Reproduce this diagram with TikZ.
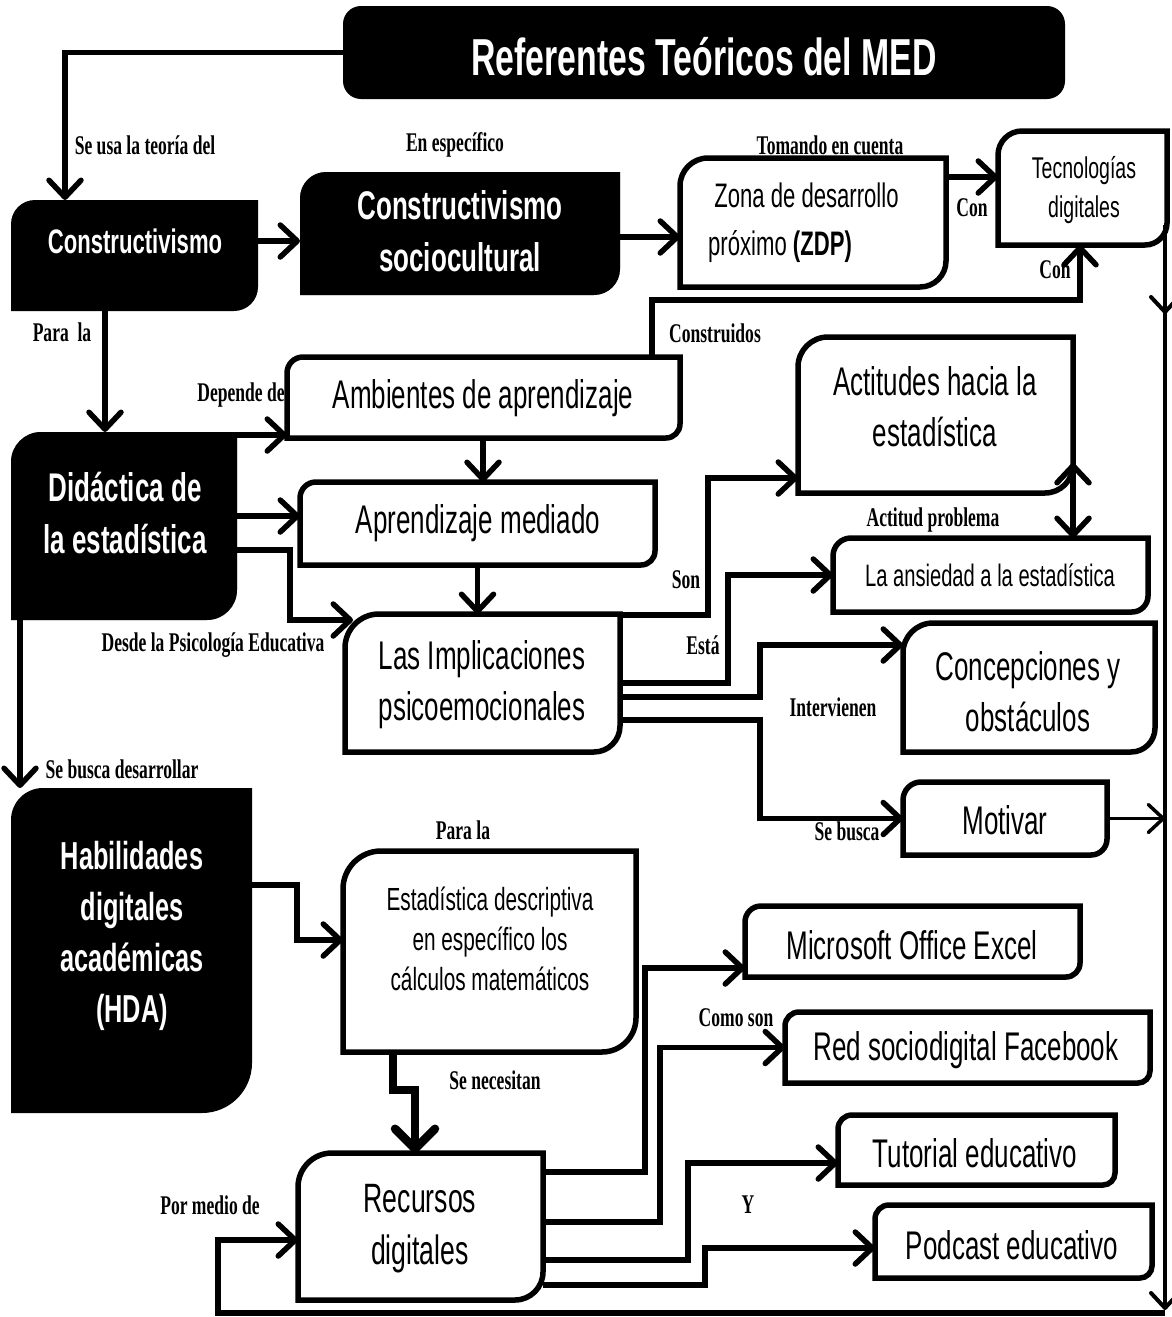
\documentclass[tikz,border=0pt]{standalone}
\usepackage{fontspec}
\setmainfont{Liberation Sans}
\newfontfamily\agency[FakeStretch=0.65]{Liberation Sans}
\newfontfamily\lblfont[FakeStretch=0.65]{Liberation Serif}
\usetikzlibrary{arrows.meta,calc}
\newcommand\drawTLBR[4]{%
  \path[#1] (#2.south west) -- ($(#2.north west)+(0,#3)$) .. controls ($(#2.north west)+(0,0.448*#3)$) and ($(#2.north west)+(0.448*#3,0)$) .. ($(#2.north west)+(#3,0)$) -- (#2.north east) -- ($(#2.south east)+(0,-#4)$) .. controls ($(#2.south east)+(0,-0.448*#4)$) and ($(#2.south east)+(-0.448*#4,0)$) .. ($(#2.south east)+(-#4,0)$) -- cycle;}
\tikzset{
  boxw/.style={draw=black, line width=5.5pt, fill=white},
  boxb/.style={fill=black},
  shad/.style={fill=black!40, shift={(4,5)}},
  frame/.style={inner sep=0pt, outer sep=0pt, anchor=north west, draw=none},
  tip/.style={-{Straight Barb[length=17pt,width=32pt,round]}},
  conn/.style={line width=5.5pt, tip},
  lbl/.style={font=\lblfont\bfseries\fontsize{27}{30}\selectfont, inner sep=0pt},
  txt/.style={font=\agency\fontsize{40}{51}\selectfont, align=center, inner sep=0pt},
  btxt/.style={font=\agency\bfseries\fontsize{40}{52}\selectfont, align=center, inner sep=0pt, text=white},
}
\begin{document}
\begin{tikzpicture}[x=1pt,y=-1pt]
\fill[white] (0,0) rectangle (1172,1317);
\useasboundingbox (0,0) rectangle (1172,1317);

% ---------- frames ----------
\node[frame, minimum width=722pt, minimum height=93pt] (title) at (343,6) {};
\node[frame, minimum width=247pt, minimum height=111pt] (c1) at (11,200) {};
\node[frame, minimum width=320pt, minimum height=123pt] (cs) at (300,172) {};
\node[frame, minimum width=266pt, minimum height=129pt] (zdp) at (680,158) {};
\node[frame, minimum width=169pt, minimum height=114pt] (tec) at (998,131) {};
\node[frame, minimum width=393pt, minimum height=81pt] (amb) at (287,357) {};
\node[frame, minimum width=355pt, minimum height=83pt] (apm) at (300,482) {};
\node[frame, minimum width=275pt, minimum height=138pt] (imp) at (345,614) {};
\node[frame, minimum width=275pt, minimum height=156pt] (act) at (798,337) {};
\node[frame, minimum width=315pt, minimum height=74pt] (ans) at (833,538) {};
\node[frame, minimum width=252pt, minimum height=129pt] (con) at (903,623) {};
\node[frame, minimum width=204pt, minimum height=73pt] (mot) at (903,782) {};
\node[frame, minimum width=226pt, minimum height=188pt] (did) at (11,432) {};
\node[frame, minimum width=241pt, minimum height=325pt] (hab) at (11,788) {};
\node[frame, minimum width=293pt, minimum height=201pt] (est) at (343,851) {};
\node[frame, minimum width=245pt, minimum height=147pt] (rec) at (298,1153) {};
\node[frame, minimum width=335pt, minimum height=71pt] (exc) at (745,906) {};
\node[frame, minimum width=365pt, minimum height=71pt] (fb) at (785,1012) {};
\node[frame, minimum width=277pt, minimum height=70pt] (tut) at (838,1115) {};
\node[frame, minimum width=277pt, minimum height=73pt] (pod) at (875,1205) {};
\coordinate (rtop) at (1165,300);
\coordinate (rbot) at (1165,1313);
\coordinate (lbot) at (218,1313);

% ---------- black boxes ----------
\fill[black, rounded corners=18pt] (title.north west) rectangle (title.south east);
\drawTLBR{boxb}{c1}{24}{24}
\drawTLBR{shad}{cs}{26}{26}
\drawTLBR{boxb}{cs}{26}{26}
\drawTLBR{shad}{did}{30}{30}
\drawTLBR{boxb}{did}{30}{30}
\drawTLBR{boxb}{hab}{32}{50}

% ---------- white boxes ----------
\drawTLBR{boxw}{zdp}{28}{26}
\drawTLBR{boxw}{tec}{24}{22}
\drawTLBR{boxw}{amb}{16}{14}
\drawTLBR{boxw}{apm}{16}{14}
\drawTLBR{boxw}{imp}{34}{26}
\drawTLBR{boxw}{act}{30}{28}
\drawTLBR{boxw}{ans}{18}{16}
\drawTLBR{boxw}{con}{30}{24}
\drawTLBR{boxw}{mot}{18}{16}
\drawTLBR{boxw}{est}{38}{34}
\drawTLBR{boxw}{rec}{34}{28}
\drawTLBR{boxw}{exc}{16}{14}
\drawTLBR{boxw}{fb}{14}{12}
\drawTLBR{boxw}{tut}{14}{12}
\drawTLBR{boxw}{pod}{14}{12}

% ---------- texts ----------
\node[btxt, font=\agency\bfseries\fontsize{52}{60}\selectfont] (titlet) at (704,57) {Referentes Teóricos del MED};
\node[btxt, font=\agency\bfseries\fontsize{34}{40}\selectfont] (c1t) at (135,241) {Constructivismo};
\node[btxt] (cst) at (460,231) {Constructivismo\\sociocultural};
\node[txt, font=\agency\fontsize{34}{48}\selectfont, align=left, anchor=west] (zdpt) at (708,223) {\ Zona de desarrollo\\próximo \textbf{(ZDP)}};
\node[txt, font=\agency\fontsize{30}{39}\selectfont] (tect) at (1084,190) {Tecnologías\\digitales};
\node[txt] (ambt) at (483,398) {Ambientes de aprendizaje};
\node[txt] (apmt) at (478,523) {Aprendizaje mediado};
\node[txt] (impt) at (482,685) {Las Implicaciones\\psicoemocionales};
\node[txt] (actt) at (935,407) {Actitudes hacia la\\estadística};
\node[txt, font=\agency\fontsize{31}{40}\selectfont] (anst) at (990,575) {La ansiedad a la estadística};
\node[txt] (cont) at (1028,692) {Concepciones y\\obstáculos};
\node[txt] (mott) at (1005,820) {Motivar};
\node[btxt] (didt) at (125,513) {Didáctica de\\la estadística};
\node[btxt, font=\agency\bfseries\fontsize{39}{51}\selectfont] (habt) at (132,936) {Habilidades\\digitales\\académicas\\(HDA)};
\node[txt, font=\agency\fontsize{32}{40}\selectfont] (estt) at (490,939) {Estadística descriptiva\\en específico los\\cálculos matemáticos};
\node[txt, font=\agency\fontsize{41}{52}\selectfont] (rect) at (420,1229) {Recursos\\digitales};
\node[txt] (exct) at (912,945) {Microsoft Office Excel};
\node[txt] (fbt) at (966,1050) {Red sociodigital Facebook};
\node[txt] (tutt) at (975,1153) {Tutorial educativo};
\node[txt] (podt) at (1012,1245) {Podcast educativo};

% ---------- connectors ----------
\draw[conn] (title.west) -| ($(c1.north west)+(54,0)$);
\draw[conn] ($(c1.north east)+(0,41)$) coordinate (a1) -- (a1 -| cs.west);
\draw[conn] ($(cs.north east)+(0,65)$) coordinate (a2) -- (a2 -| zdp.west);
\draw[conn] ($(zdp.north east)+(0,19)$) coordinate (a3) -- (a3 -| tec.west);
\draw[conn] ($(amb.north west)+(365,0)$) -- ++(0,-57) -| ($(tec.south west)+(82,0)$);
\draw[conn] ($(c1.south west)+(94,0)$) coordinate (a4) -- (a4 |- did.north);
\draw[conn] ($(did.north east)+(0,3)$) coordinate (a5) -- (a5 -| amb.west);
\draw[conn] ($(did.north east)+(0,84)$) coordinate (a6) -- (a6 -| apm.west);
\draw[conn] ($(did.north east)+(0,118)$) -- ++(53,0) |- ($(imp.north west)+(8,6)$);
\draw[conn] (amb.south -| ambt) -- (ambt |- apm.north);
\draw[conn] (apm.south) -- (apm.south |- imp.north);
\draw[conn] ($(imp.north east)+(0,1)$) -- ++(88,0) |- ($(act.north west)+(0,141)$);
\draw[conn] ($(imp.north east)+(0,69)$) -- ++(108,0) |- (ans.west);
\draw[conn] ($(imp.north east)+(0,83)$) -- ++(140,0) |- ($(con.north west)+(0,22)$);
\draw[conn] ($(imp.north east)+(0,106)$) -- ++(140,0) |- (mot.west);
\draw[line width=5.5pt, {Straight Barb[length=17pt,width=32pt,round]}-{Straight Barb[length=17pt,width=32pt,round]}] ($(act.south east)+(0,-30)$) -- ($(ans.north west)+(240,0)$);
\draw[line width=4pt, -{Straight Barb[length=15pt,width=28pt,round]}] ($(tec.south east)+(-2,-20)$) -- (rtop |- 0,314);
\draw[line width=4pt, -{Straight Barb[length=15pt,width=28pt,round]}] (rtop) -- (rbot |- 0,1310);
\draw[line width=3.5pt, -{Straight Barb[length=15pt,width=28pt,round]}] (mot.east) -- (mot.east -| rtop);
\draw[conn] (rbot) -- (lbot) |- ($(rec.north west)+(0,87)$);
\draw[conn] ($(did.south west)+(9,0)$) coordinate (a7) -- (a7 |- hab.north);
\draw[conn] ($(hab.north east)+(0,97)$) -- ++(45,0) |- ($(est.north west)+(0,89)$);
\draw[line width=8.5pt, -{Straight Barb[length=20pt,width=40pt,round]}] ($(est.south west)+(50,0)$) -- ++(0,38) -| ($(rec.north west)+(117,0)$);
\draw[conn] ($(rec.north east)+(0,19)$) -- ++(102,0) |- ($(exc.north west)+(0,62)$);
\draw[conn] ($(rec.north east)+(0,69)$) -- ++(117,0) |- (fb.west);
\draw[conn] ($(rec.north east)+(0,107)$) -- ++(145,0) |- ($(tut.north west)+(0,48)$);
\draw[conn] ($(rec.north east)+(0,132)$) -- ++(162,0) |- ($(pod.north west)+(0,43)$);

% ---------- labels ----------
\node[lbl] (l1) at (145,145) {Se usa la teoría del};
\node[lbl] (l2) at (455,145) {En específico};
\node[lbl] (l3) at (830,145) {Tomando en cuenta};
\node[lbl] (l4) at (972,208) {Con};
\node[lbl] (l5) at (1055,270) {Con};
\node[lbl] (l6) at (715,333) {Construidos};
\node[lbl] (l7) at (62,332) {Para\ \ la};
\node[lbl] (l8) at (241,395) {Depende de};
\node[lbl] (l9) at (213,645) {Desde la Psicología Educativa};
\node[lbl] (l10) at (686,580) {Son};
\node[lbl] (l11) at (703,645) {Está};
\node[lbl] (l12) at (933,520) {Actitud problema};
\node[lbl] (l13) at (833,707) {Intervienen};
\node[lbl] (l14) at (847,831) {Se busca};
\node[lbl] (l15) at (122,769) {Se busca desarrollar};
\node[lbl] (l16) at (463,830) {Para la};
\node[lbl] (l17) at (495,1080) {Se necesitan};
\node[lbl] (l18) at (736,1018) {Como son};
\node[lbl] (l19) at (748,1205) {Y};
\node[lbl] (l20) at (210,1205) {Por medio de};
\end{tikzpicture}
\end{document}
